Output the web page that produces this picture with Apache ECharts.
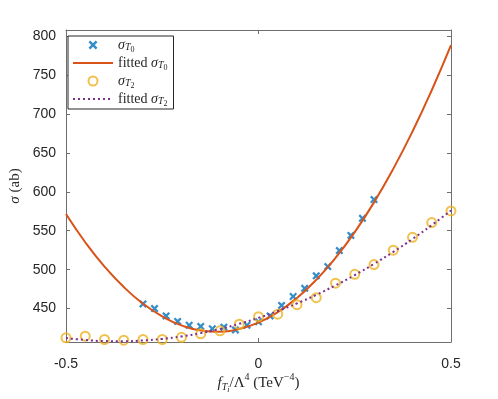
<!DOCTYPE html>
<html>
<head>
<meta charset="utf-8">
<script src="https://cdn.jsdelivr.net/npm/echarts@6/dist/echarts.min.js"></script>
<style>
    html, body { margin: 0; padding: 0; background: #fff; }
    #main { width: 498px; height: 399px; }
</style>
</head>
<body>
<div id="main"></div>
<script>
    // sigma_T0 data points (x = -0.3 .. 0.3)
    var xT0 = [-0.3, -0.27, -0.24, -0.21, -0.18, -0.15, -0.12, -0.09, -0.06, -0.03, 0,
        0.03, 0.06, 0.09, 0.12, 0.15, 0.18, 0.21, 0.24, 0.27, 0.3];
    var sT0 = [456, 450, 440.5, 433.5, 428.5, 427, 424, 426, 422.5, 428.5, 433,
        440.5, 454, 465.5, 476, 492, 504, 524.5, 544, 566, 590];
    // sigma_T2 data points (x = -0.5 .. 0.5)
    var xT2 = [-0.5, -0.45, -0.4, -0.35, -0.3, -0.25, -0.2, -0.15, -0.1, -0.05, 0,
        0.05, 0.1, 0.15, 0.2, 0.25, 0.3, 0.35, 0.4, 0.45, 0.5];
    var sT2 = [412.4, 414.5, 410.2, 409.4, 410.2, 410.2, 413, 417.6, 421.3, 429.8, 439.6,
        442.8, 455, 464, 482.6, 494, 506.5, 525, 541.6, 560.5, 575.4];
    // fitted curves, same x grid as xT2
    var fitT0 = [571.5, 535.2, 503.9, 477.6, 456.2, 439.8, 428.3, 421.8, 420.2, 423.6, 432,
        445.3, 463.6, 486.9, 515.1, 548.3, 586.4, 629.5, 677.5, 730.6, 788.5];
    var fitT2 = [412, 409.6, 408.2, 408, 409, 411, 414.2, 418.4, 423.8, 430.4, 438,
        446.8, 456.6, 467.6, 479.8, 493, 507.4, 522.8, 539.4, 557.2, 576];
    var yTicks = [450, 500, 550, 600, 650, 700, 750, 800];

    var pair = function (xs, ys) {
        var out = [];
        for (var i = 0; i < xs.length; i++) {
            out.push([xs[i], ys[i]]);
        }
        return out;
    };

    // thick "x" marker
    var crossPath = 'path://M0,2 L2,0 L5,3 L8,0 L10,2 L7,5 L10,8 L8,10 L5,7 L2,10 L0,8 L3,5 Z';
    var serif = 'Liberation Serif';
    var axisColor = '#6e6e6e';
    var labelColor = '#262626';
    var hidden = {color: 'rgba(0,0,0,0)', borderColor: 'rgba(0,0,0,0)', borderWidth: 0};

    var legendRich = {
        t: {fontFamily: serif, fontSize: 14, lineHeight: 18, color: labelColor},
        g: {fontFamily: serif, fontSize: 14, fontStyle: 'italic', lineHeight: 18, color: labelColor},
        s: {fontFamily: serif, fontSize: 10, fontStyle: 'italic', color: labelColor, verticalAlign: 'bottom', padding: [0, 0, 2, 0]},
        ss: {fontFamily: serif, fontSize: 8, color: labelColor, verticalAlign: 'bottom'}
    };
    var legendNames = {
        sT0: '{g|σ}{s|T}{ss|0}',
        fT0: '{t|fitted }{g|σ}{s|T}{ss|0}',
        sT2: '{g|σ}{s|T}{ss|2}',
        fT2: '{t|fitted }{g|σ}{s|T}{ss|2}'
    };

    var myChart = echarts.init(document.getElementById('main'), null, {renderer: 'canvas'});
    var option = {
        backgroundColor: '#fff',
        animation: false,
        grid: {left: 65, right: 47, top: 30, bottom: 50, containLabel: false},
        legend: {
            orient: 'vertical',
            left: 68,
            top: 36,
            padding: [2, 6, 1, 4],
            itemGap: 2,
            itemWidth: 40,
            itemHeight: 9,
            backgroundColor: '#fff',
            borderColor: '#262626',
            borderWidth: 1,
            data: [
                {name: 'sT0'},
                {name: 'fT0', itemStyle: hidden},
                {name: 'sT2'},
                {name: 'fT2', itemStyle: hidden}
            ],
            formatter: function (name) {
                return legendNames[name];
            },
            textStyle: {rich: legendRich}
        },
        xAxis: [{
            type: 'value',
            min: -0.5,
            max: 0.5,
            interval: 0.5,
            name: '{f|f}{s|T}{ss|i}{n|/Λ}{p|4}{n| (TeV}{p|−4}{n|)}',
            nameLocation: 'middle',
            nameGap: 30,
            nameMoveOverlap: false,
            nameTextStyle: {
                rich: {
                    f: {fontFamily: serif, fontSize: 15, fontStyle: 'italic', lineHeight: 22, color: labelColor},
                    n: {fontFamily: serif, fontSize: 15, lineHeight: 22, color: labelColor},
                    s: {fontFamily: serif, fontSize: 10, fontStyle: 'italic', color: labelColor, verticalAlign: 'bottom', padding: [0, 0, 2, 0]},
                    ss: {fontFamily: serif, fontSize: 8, fontStyle: 'italic', color: labelColor, verticalAlign: 'bottom'},
                    p: {fontFamily: serif, fontSize: 10, color: labelColor, verticalAlign: 'top'}
                }
            },
            axisLine: {onZero: false, lineStyle: {color: axisColor, width: 1}},
            axisTick: {inside: true, length: 4, lineStyle: {color: axisColor}},
            axisLabel: {
                color: labelColor, fontFamily: 'Liberation Sans', fontSize: 14, margin: 15,
                formatter: function (v) { return String(v); }
            },
            splitLine: {show: false}
        }, {
            type: 'value',
            position: 'top',
            min: -0.5,
            max: 0.5,
            interval: 0.5,
            axisLine: {onZero: false, lineStyle: {color: axisColor, width: 1}},
            axisTick: {inside: true, length: 4, lineStyle: {color: axisColor}},
            axisLabel: {show: false},
            splitLine: {show: false}
        }],
        yAxis: [{
            type: 'value',
            min: 407,
            max: 808,
            name: '{g|σ}{n| (ab)}',
            nameLocation: 'middle',
            nameGap: 43,
            nameRotate: 90,
            nameMoveOverlap: false,
            nameTextStyle: {
                rich: {
                    g: {fontFamily: serif, fontSize: 15, fontStyle: 'italic', color: labelColor},
                    n: {fontFamily: serif, fontSize: 15, color: labelColor}
                }
            },
            axisLine: {onZero: false, lineStyle: {color: axisColor, width: 1}},
            axisTick: {inside: true, length: 4, lineStyle: {color: axisColor}, customValues: yTicks},
            axisLabel: {color: labelColor, fontFamily: 'Liberation Sans', fontSize: 14, margin: 10, customValues: yTicks},
            splitLine: {show: false}
        }, {
            type: 'value',
            position: 'right',
            min: 407,
            max: 808,
            axisLine: {show: true, onZero: false, lineStyle: {color: axisColor, width: 1}},
            axisTick: {show: true, inside: true, length: 4, lineStyle: {color: axisColor}, customValues: yTicks},
            axisLabel: {show: false},
            splitLine: {show: false}
        }],
        series: [{
            name: 'sT0',
            type: 'scatter',
            symbol: crossPath,
            symbolSize: 8,
            itemStyle: {color: '#0072BD'},
            data: pair(xT0, sT0),
            z: 2
        }, {
            name: 'fT0',
            type: 'line',
            smooth: true,
            showSymbol: false,
            symbol: 'none',
            lineStyle: {color: '#D95319', width: 2},
            itemStyle: {color: '#D95319'},
            data: pair(xT2, fitT0),
            z: 3
        }, {
            name: 'sT2',
            type: 'scatter',
            symbol: 'circle',
            symbolSize: 9,
            itemStyle: {color: 'rgba(0,0,0,0)', borderColor: '#EDB120', borderWidth: 2},
            data: pair(xT2, sT2),
            z: 4
        }, {
            name: 'fT2',
            type: 'line',
            smooth: true,
            showSymbol: false,
            symbol: 'none',
            lineStyle: {color: '#7E2F8E', width: 2, type: [2, 3]},
            itemStyle: {color: '#7E2F8E'},
            data: pair(xT2, fitT2),
            z: 5
        }]
    };
    myChart.setOption(option);
</script>
</body>
</html>
